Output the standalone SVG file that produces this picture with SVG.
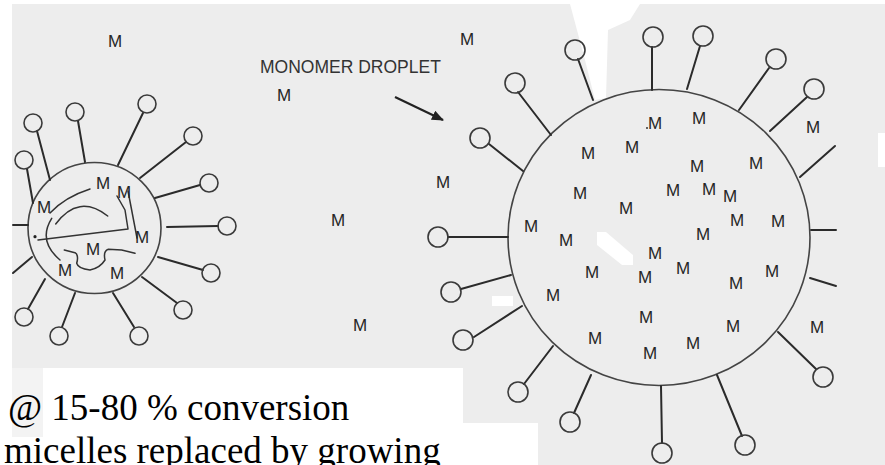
<svg xmlns="http://www.w3.org/2000/svg" width="885" height="465" viewBox="0 0 885 465">
  <defs>
    <style>
      .paper{fill:#ededed}
      .blank{fill:#ffffff}
      .m{font-family:"Liberation Sans",Arial,sans-serif;font-size:17px;fill:#262626;text-anchor:middle}
      .lbl{font-family:"Liberation Sans",Arial,sans-serif;font-size:17.5px;fill:#333333}
      .note{font-family:"Liberation Serif","Times New Roman",serif;font-size:37px;fill:#000000}
      .tail{stroke:#2b2b2b;stroke-width:2;stroke-linecap:round}
      .head{fill:none;stroke:#3a3a3a;stroke-width:1.6}
      .shell{fill:none;stroke:#444444;stroke-width:1.6}
      .chain{fill:none;stroke:#333333;stroke-width:1.5;stroke-linecap:round;stroke-linejoin:round}
      .pointer{stroke:#222222;stroke-width:2.2}
    </style>
    <marker id="arrowhead" markerUnits="userSpaceOnUse" markerWidth="12" markerHeight="10" refX="11" refY="5" orient="auto">
      <path d="M0,0 L12,5 L0,10 Z" fill="#222222"/>
    </marker>
  </defs>

  <!-- paper background with blank patches -->
  <rect class="paper" x="0" y="0" width="885" height="465"/>
  <rect class="blank" x="0" y="0" width="885" height="4"/>
  <rect class="blank" x="0" y="0" width="12" height="465"/>
  <path class="blank" d="M570,4 L640,4 L630,20 L608,30 L606,98 L595,100 L585,60 Z"/>
  <path class="blank" d="M597,232 L606,232 L633,255 L633,265 L622,265 L597,245 Z"/>
  <rect class="blank" x="492" y="296" width="21" height="10"/>
  <rect class="blank" x="878" y="133" width="7" height="34"/>
  <rect class="blank" x="0" y="368" width="463" height="97"/>
  <rect class="blank" x="463" y="423" width="75" height="42"/>
  <rect fill="#f3f3f3" x="12" y="368" width="31" height="69"/>

  <!-- particle swollen with growing polymer chains -->
  <g id="micelle-particle">
    <ellipse class="shell" cx="94.5" cy="228" rx="66.5" ry="65.5"/>
    <line class="tail" x1="27" y1="169" x2="33" y2="203"/><circle class="head" cx="24" cy="160" r="9"/>
    <line class="tail" x1="37" y1="131" x2="50" y2="180"/><circle class="head" cx="33" cy="123" r="9"/>
    <line class="tail" x1="78" y1="121" x2="85" y2="162"/><circle class="head" cx="75" cy="112" r="9"/>
    <line class="tail" x1="143" y1="113" x2="118" y2="165"/><circle class="head" cx="147" cy="104" r="9"/>
    <line class="tail" x1="186" y1="142" x2="140" y2="178"/><circle class="head" cx="193" cy="136" r="9"/>
    <line class="tail" x1="200" y1="185" x2="155" y2="198"/><circle class="head" cx="209" cy="183" r="9"/>
    <line class="tail" x1="218" y1="226" x2="167" y2="227"/><circle class="head" cx="227" cy="226" r="9"/>
    <line class="tail" x1="203" y1="270" x2="158" y2="257"/><circle class="head" cx="211" cy="273" r="9"/>
    <line class="tail" x1="177" y1="303" x2="142" y2="277"/><circle class="head" cx="183" cy="310" r="9"/>
    <line class="tail" x1="134" y1="327" x2="113" y2="293"/><circle class="head" cx="139" cy="336" r="9"/>
    <line class="tail" x1="62" y1="327" x2="75" y2="293"/><circle class="head" cx="59" cy="336" r="9"/>
    <line class="tail" x1="28" y1="309" x2="45" y2="279"/><circle class="head" cx="24" cy="317" r="9"/>
    <line class="tail" x1="13" y1="273" x2="32" y2="257"/>
    <line class="tail" x1="13" y1="225" x2="28" y2="225"/>
    <!-- polymer chains -->
    <path class="chain" d="M50,213 Q65,197 90,189"/>
    <path class="chain" d="M55.7,224 Q78.3,193.3 107.7,216"/>
    <path class="chain" d="M38,240 L128,229 L125,210 L117,196"/>
    <path class="chain" d="M128,191 L137,238"/>
    <path class="chain" d="M51.7,218.3 Q37.5,240.8 60,260"/>
    <path class="chain" d="M64.3,250 L75,252.7 Q79,255 76.7,263.3 Q78,268.5 90,270 Q100,268 105,260 Q103,251 108.3,249.3 L121.7,250 L135,253.3"/>
    <circle cx="35" cy="236.7" r="1.6" fill="#222222"/>
    <text class="m" x="103" y="189">M</text>
    <text class="m" x="124" y="198">M</text>
    <text class="m" x="44" y="213">M</text>
    <text class="m" x="142" y="243">M</text>
    <text class="m" x="93" y="255">M</text>
    <text class="m" x="65" y="276">M</text>
    <text class="m" x="117" y="279">M</text>
  </g>

  <!-- large monomer droplet -->
  <g id="monomer-droplet">
    <ellipse class="shell" cx="659" cy="237.5" rx="151" ry="148"/>
    <line class="tail" x1="448" y1="237" x2="508" y2="237"/><circle class="head" cx="438" cy="237" r="10"/>
    <line class="tail" x1="461" y1="289" x2="511" y2="275"/><circle class="head" cx="451" cy="292" r="10"/>
    <line class="tail" x1="474" y1="337" x2="522" y2="306"/><circle class="head" cx="463" cy="340" r="10"/>
    <line class="tail" x1="524" y1="384" x2="553" y2="346"/><circle class="head" cx="518" cy="392" r="10"/>
    <line class="tail" x1="574" y1="413" x2="591" y2="375"/><circle class="head" cx="570" cy="422" r="10"/>
    <line class="tail" x1="662" y1="443" x2="661" y2="386"/><circle class="head" cx="662" cy="453" r="10"/>
    <line class="tail" x1="742" y1="436" x2="717" y2="375"/><circle class="head" cx="745" cy="445" r="10"/>
    <line class="tail" x1="816" y1="369" x2="778" y2="332"/><circle class="head" cx="823" cy="377" r="10"/>
    <line class="tail" x1="810" y1="278" x2="836" y2="286"/>
    <line class="tail" x1="811" y1="230" x2="836" y2="230"/>
    <line class="tail" x1="800" y1="177" x2="835" y2="146"/>
    <line class="tail" x1="807" y1="97" x2="770" y2="131"/><circle class="head" cx="814" cy="89" r="10"/>
    <line class="tail" x1="769" y1="68" x2="739" y2="110"/><circle class="head" cx="776" cy="59" r="10"/>
    <line class="tail" x1="700" y1="46" x2="687" y2="89"/><circle class="head" cx="703" cy="36" r="10"/>
    <line class="tail" x1="652" y1="47" x2="652" y2="90"/><circle class="head" cx="653" cy="37" r="10"/>
    <line class="tail" x1="578" y1="59" x2="593" y2="100"/><circle class="head" cx="575" cy="50" r="10"/>
    <line class="tail" x1="518" y1="92" x2="551" y2="135"/><circle class="head" cx="515" cy="83" r="10"/>
    <line class="tail" x1="489" y1="144" x2="523" y2="171"/><circle class="head" cx="480" cy="138" r="10"/>
    <circle cx="647" cy="128" r="1" fill="#333333"/>
    <text class="m" x="655" y="129">M</text>
    <text class="m" x="699" y="124">M</text>
    <text class="m" x="588" y="159">M</text>
    <text class="m" x="632" y="153">M</text>
    <text class="m" x="697" y="172">M</text>
    <text class="m" x="756" y="169">M</text>
    <text class="m" x="580" y="199">M</text>
    <text class="m" x="673" y="196">M</text>
    <text class="m" x="709" y="195">M</text>
    <text class="m" x="730" y="202">M</text>
    <text class="m" x="626" y="214">M</text>
    <text class="m" x="737" y="226">M</text>
    <text class="m" x="778" y="227">M</text>
    <text class="m" x="531" y="232">M</text>
    <text class="m" x="566" y="246">M</text>
    <text class="m" x="703" y="240">M</text>
    <text class="m" x="655" y="259">M</text>
    <text class="m" x="592" y="278">M</text>
    <text class="m" x="645" y="283">M</text>
    <text class="m" x="683" y="274">M</text>
    <text class="m" x="772" y="277">M</text>
    <text class="m" x="736" y="289">M</text>
    <text class="m" x="553" y="301">M</text>
    <text class="m" x="646" y="323">M</text>
    <text class="m" x="733" y="332">M</text>
    <text class="m" x="595" y="344">M</text>
    <text class="m" x="693" y="349">M</text>
    <text class="m" x="650" y="359">M</text>
  </g>

  <!-- free monomer in the water phase -->
  <g id="free-monomer">
    <text class="m" x="115" y="47">M</text>
    <text class="m" x="467" y="45">M</text>
    <text class="m" x="284" y="101">M</text>
    <text class="m" x="443" y="188">M</text>
    <text class="m" x="338" y="226">M</text>
    <text class="m" x="360" y="331">M</text>
    <text class="m" x="813" y="133">M</text>
    <text class="m" x="817" y="333">M</text>
  </g>

  <g id="droplet-label">
    <text class="lbl" x="260" y="73">MONOMER DROPLET</text>
  </g>

  <g id="connectors">
    <line class="pointer" x1="395" y1="97" x2="443" y2="120" marker-end="url(#arrowhead)"/>
  </g>

  <g id="caption">
    <text class="note" x="8" y="420">@ 15-80 % conversion</text>
    <text class="note" x="4" y="463">micelles replaced by growing</text>
  </g>
</svg>
